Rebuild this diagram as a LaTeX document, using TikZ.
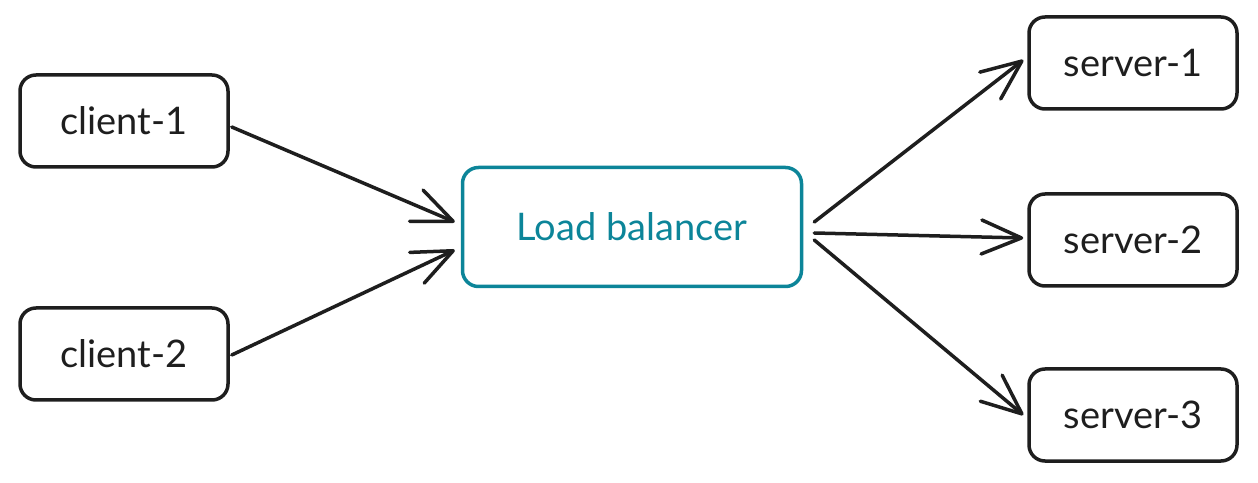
\documentclass[tikz,border=0pt]{standalone}
\usepackage{fontspec}
\setmainfont{Lato}
\usetikzlibrary{arrows.meta}
\definecolor{ink}{HTML}{1E1E1E}
\definecolor{lbteal}{HTML}{0C8599}
\tikzset{
  box/.style={draw=ink, line width=3.5pt, rounded corners=16pt, minimum width=208pt,
    minimum height=92pt, text=ink, font=\fontsize{38}{44}\selectfont},
  lbbox/.style={box, draw=lbteal, text=lbteal, minimum width=339pt, minimum height=119pt},
  link/.style={draw=ink, line width=3.5pt, line cap=round,
    -{Straight Barb[length=40pt,width=34pt,round]}}
}
\begin{document}
\begin{tikzpicture}[x=1pt,y=1pt]
\useasboundingbox (0,0) rectangle (1258,482);
% clients and balancer
\node[box] (c1) at (124,361) {client-1};
\node[box] (c2) at (124,128) {client-2};
\node[lbbox] (lb) at (632,255) {Load balancer};
% servers
\foreach \n/\y in {1/419, 2/242, 3/67}
  \node[box] (s\n) at (1133,\y) {server-\n};
% requests in
\draw[link] ([xshift=2pt,yshift=-6pt]c1.east) -- ([xshift=-6pt,yshift=5pt]lb.west);
\draw[link] ([xshift=2pt,yshift=-1pt]c2.east) -- ([xshift=-6pt,yshift=-23pt]lb.west);
% requests out
\foreach \n/\a/\b in {1/5/3, 2/-6/2, 3/-13/0}
  \draw[link] ([xshift=11pt,yshift=\a pt]lb.east) -- ([xshift=-4pt,yshift=\b pt]s\n.west);
\end{tikzpicture}
\end{document}
